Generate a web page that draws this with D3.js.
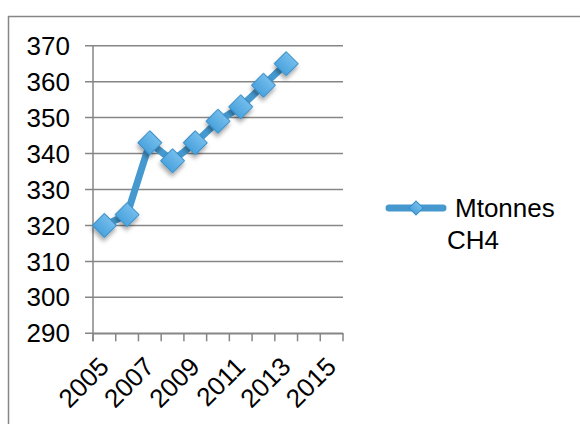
<!DOCTYPE html>
<html>
<head>
<meta charset="utf-8">
<script src="https://cdn.jsdelivr.net/npm/d3@7"></script>
<style>
  html, body { margin: 0; padding: 0; background: #fff; }
  svg { display: block; }
  text { font-family: "Liberation Sans", Arial, sans-serif; fill: #000; }
</style>
</head>
<body>
<svg id="chart" width="580" height="424"></svg>
<script>
// Annual methane emissions, Mtonnes CH4
const years = ["2005", "2006", "2007", "2008", "2009", "2010", "2011", "2012", "2013", "2014", "2015"];
const valueYears = ["2005", "2006", "2007", "2008", "2009", "2010", "2011", "2012", "2013"];
const values = [320, 323, 343, 338, 343, 349, 353, 359, 365];
const yTicks = [290, 300, 310, 320, 330, 340, 350, 360, 370];
const xLabels = ["2005", "2007", "2009", "2011", "2013", "2015"];
const seriesName = ["Mtonnes", "CH4"];

const svg = d3.select("#chart");
const gray = "#868686";
const lineBlue = "#4599cf";

const plot = { left: 93, right: 343, top: 45.7, bottom: 333.3 };

const x = d3.scaleBand().domain(years).range([plot.left, plot.right]).padding(0);
const y = d3.scaleLinear().domain([290, 370]).range([plot.bottom, plot.top]);

const defs = svg.append("defs");
const grad = defs.append("linearGradient")
  .attr("id", "markerFill").attr("x1", 0).attr("y1", 0).attr("x2", 0).attr("y2", 1);
grad.append("stop").attr("offset", "0%").attr("stop-color", "#74bdec");
grad.append("stop").attr("offset", "100%").attr("stop-color", "#4ba3dd");
const shadow = defs.append("filter").attr("id", "shadow")
  .attr("x", "-50%").attr("y", "-50%").attr("width", "200%").attr("height", "200%");
shadow.append("feDropShadow").attr("dx", 2).attr("dy", 3).attr("stdDeviation", 2)
  .attr("flood-color", "#000").attr("flood-opacity", 0.35);

// chart area frame
svg.append("path")
  .attr("d", "M8.5,424 V16.5 H580")
  .attr("fill", "none").attr("stroke", gray).attr("stroke-width", 1.5);

// horizontal gridlines
svg.append("g").selectAll("line").data(yTicks).join("line")
  .attr("x1", plot.left - 8).attr("x2", plot.right)
  .attr("y1", d => y(d)).attr("y2", d => y(d))
  .attr("stroke", gray).attr("stroke-width", 1.5);

// value axis labels
svg.append("g").selectAll("text").data(yTicks).join("text")
  .attr("x", 70).attr("y", d => y(d))
  .attr("dy", "0.35em").attr("text-anchor", "end")
  .style("font-size", "26px")
  .text(d => d);

// value axis line
svg.append("line")
  .attr("x1", plot.left).attr("x2", plot.left)
  .attr("y1", plot.top).attr("y2", plot.bottom + 8)
  .attr("stroke", gray).attr("stroke-width", 1.5);

// category axis with tick marks between categories
const xAxis = d3.axisBottom(x).tickSize(0).tickFormat("");
svg.append("g").attr("transform", `translate(0,${plot.bottom})`).call(xAxis)
  .call(g => g.select(".domain").attr("stroke", gray).attr("stroke-width", 1.5));
const bounds = years.map(d => x(d)).concat([x(years[years.length - 1]) + x.bandwidth()]);
svg.append("g").selectAll("line").data(bounds).join("line")
  .attr("x1", d => d).attr("x2", d => d)
  .attr("y1", plot.bottom).attr("y2", plot.bottom + 8)
  .attr("stroke", gray).attr("stroke-width", 1.5);

svg.append("g").selectAll("text").data(xLabels).join("text")
  .attr("transform", d => `translate(${x(d) + x.bandwidth() / 2 + 6},${plot.bottom + 35}) rotate(-45)`)
  .attr("text-anchor", "end")
  .style("font-size", "26px")
  .text(d => d);

// series line
const pts = valueYears.map((yr, i) => [x(yr) + x.bandwidth() / 2, y(values[i])]);
svg.append("path")
  .attr("d", d3.line()(pts))
  .attr("fill", "none").attr("stroke", lineBlue).attr("stroke-width", 7)
  .attr("stroke-linejoin", "round").attr("stroke-linecap", "round");

// diamond markers
const diamond = d3.symbol().type(d3.symbolSquare).size(12 * 12 * 2);
svg.append("g").selectAll("path").data(pts).join("path")
  .attr("d", diamond)
  .attr("transform", d => `translate(${d[0]},${d[1]}) rotate(45)`)
  .attr("fill", "url(#markerFill)").attr("stroke", "#3a8fc8").attr("stroke-width", 1)
  .attr("filter", "url(#shadow)");

// legend
const leg = svg.append("g");
leg.append("line")
  .attr("x1", 389).attr("x2", 443).attr("y1", 208).attr("y2", 208)
  .attr("stroke", lineBlue).attr("stroke-width", 7).attr("stroke-linecap", "round");
leg.append("path")
  .attr("d", d3.symbol().type(d3.symbolSquare).size(7 * 7 * 2)())
  .attr("transform", "translate(416,208) rotate(45)")
  .attr("fill", "url(#markerFill)").attr("stroke", "#3a8fc8").attr("stroke-width", 1);
leg.append("text").attr("x", 455).attr("y", 217).style("font-size", "26px").text(seriesName[0]);
leg.append("text").attr("x", 447).attr("y", 249).style("font-size", "26px").text(seriesName[1]);
</script>
</body>
</html>
